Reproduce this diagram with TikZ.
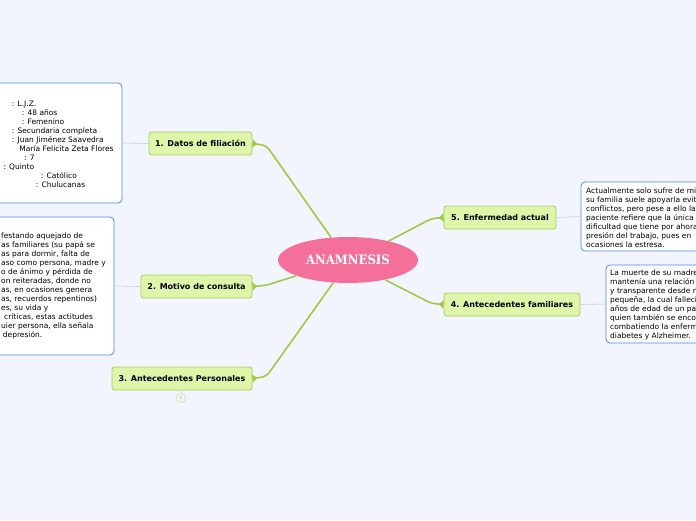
\documentclass[tikz,border=0pt]{standalone}
\usepackage{fontspec}
\setmainfont{DejaVu Sans}
\newfontfamily\titlefont{DejaVu Serif Condensed}
\usetikzlibrary{arrows.meta,shapes.geometric}

\definecolor{bgcol}{RGB}{242,245,253}
\definecolor{rootcol}{RGB}{244,112,155}
\definecolor{branchcol}{RGB}{160,201,70}
\definecolor{topicfill}{RGB}{222,245,170}
\definecolor{topicline}{RGB}{170,205,95}
\definecolor{noteline}{RGB}{70,140,230}
\definecolor{linkcol}{RGB}{200,205,215}

\begin{document}
\begin{tikzpicture}[x=1pt, y=-1pt,
    topic/.style={draw=topicline, fill=topicfill, rounded corners=2.5pt, line width=0.8pt,
        font=\bfseries\fontsize{8}{9}\selectfont, inner sep=0pt, minimum height=23pt},
    note/.style={draw=noteline, fill=white, rounded corners=4pt, line width=0.8pt, inner sep=0pt},
    notetext/.style={anchor=north west, inner sep=0pt, align=left, font=\fontsize{7.5}{9}\selectfont},
    branch/.style={draw=branchcol, line width=1.6pt, rounded corners=5pt,
        -{Triangle[reversed, length=5pt, width=8pt]}},
    link/.style={draw=linkcol, line width=0.6pt}]

    % canvas
    \fill[bgcol] (0,0) rectangle (696,520);
    \useasboundingbox (0,0) rectangle (696,520);
    \clip (0,0) rectangle (696,520);

    % central topic
    \node[ellipse, fill=rootcol, minimum width=140pt, minimum height=46pt, text=white,
        font=\titlefont\bfseries\fontsize{13}{13}\selectfont] (root) at (348,260) {ANAMNESIS};

    % main topics
    \node[topic, minimum width=103pt] (filiacion) at (200.5,143.5) {1. Datos de filiación};
    \node[topic, minimum width=111pt] (motivo) at (196.5,286.5) {2. Motivo de consulta};
    \node[topic, minimum width=140pt] (personales) at (182,378.5) {3. Antecedentes Personales};
    \node[topic, minimum width=112pt] (enfermedad) at (500,217.5) {5. Enfermedad actual};
    \node[topic, minimum width=136pt] (familiares) at (512,304.5) {4. Antecedentes familiares};

    % branches
    \draw[branch] (root.127) -- ([shift={(14,2)}]filiacion.east) -- (filiacion.east);
    \draw[branch] (root.197) -- ([shift={(13,-1)}]motivo.east) -- (motivo.east);
    \draw[branch] (root.237) -- ([shift={(14,-2)}]personales.east) -- (personales.east);
    \draw[branch] (root.25) -- ([shift={(-12,1)}]enfermedad.west) -- (enfermedad.west);
    \draw[branch] (root.332) -- ([shift={(-12,-1)}]familiares.west) -- (familiares.west);

    % collapsed marker
    \node[circle, draw=topicline!60, fill=bgcol, line width=0.6pt, minimum size=9pt, inner sep=0pt,
        text=topicline, font=\fontsize{4}{4}\selectfont] (pliegue) at (181,398) {6};
    \draw[topicline!60, line width=0.6pt] (pliegue.north) -- (pliegue.north |- personales.south);

    % notes
    \node[note, minimum width=142pt, minimum height=120pt] (nota1) at (51,143) {};
    \node[note, minimum width=134pt, minimum height=138pt] (nota2) at (47,286) {};
    \node[note, minimum width=139pt, minimum height=69pt] (nota5) at (650.5,216.5) {};
    \node[note, minimum width=114pt, minimum height=78pt] (nota4) at (663,304) {};

    \draw[link] (filiacion.west) -- (nota1.east);
    \draw[link] (motivo.west) -- (nota2.east);
    \draw[link] (enfermedad.east) -- (nota5.west);
    \draw[link] (familiares.east) -- (nota4.west);

    % note texts
    \node[notetext] (texto1) at (3.3,101) {%
        \hspace*{8.4pt}: L.J.Z.\\
        \hspace*{18.4pt}: 48 años\\
        \hspace*{18.4pt}: Femenino\\
        \hspace*{8.4pt}: Secundaria completa\\
        \hspace*{8.4pt}: Juan Jiménez Saavedra\\
        \hspace*{16pt}María Felicita Zeta Flores\\
        \hspace*{20.7pt}: 7\\
        : Quinto\\
        \hspace*{37.4pt}: Católico\\
        \hspace*{32.4pt}: Chulucanas};
    \node[notetext] (texto2) at (1,232.8) {%
        festando aquejado de\\
        as familiares (su papá se\\
        as para dormir, falta de\\
        aso como persona, madre y\\
        o de ánimo y pérdida de\\
        on reiteradas, donde no\\
        as, en ocasiones genera\\
        as, recuerdos repentinos)\\
        es, su vida y\\
        \hspace*{3pt}críticas, estas actitudes\\
        uier persona, ella señala\\
        \hspace*{1.7pt}depresión.};
    \node[notetext] (texto5) at (586,187.8) {%
        Actualmente solo sufre de mi\\
        su familia suele apoyarla evit\\
        conflictos, pero pese a ello la\\
        paciente refiere que la única\\
        dificultad que tiene por ahora\\
        presión del trabajo, pues en\\
        ocasiones la estresa.};
    \node[notetext] (texto4) at (610,269.3) {%
        La muerte de su madre\\
        mantenía una relación\\
        y transparente desde n\\
        pequeña, la cual falleci\\
        años de edad de un pa\\
        quien también se enco\\
        combatiendo la enferm\\
        diabetes y Alzheimer.};

\end{tikzpicture}
\end{document}
